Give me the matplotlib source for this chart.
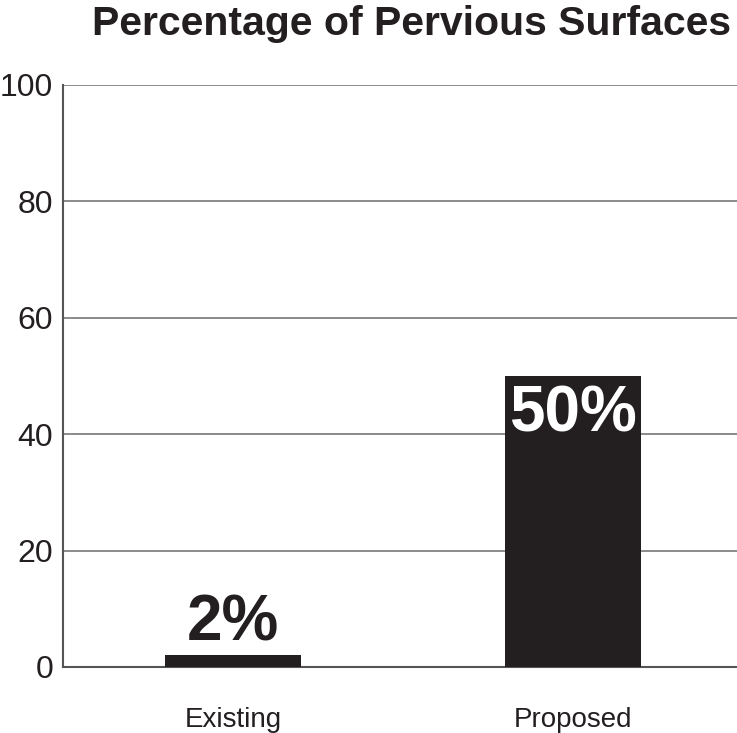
import matplotlib.pyplot as plt

plt.rcParams['font.family'] = ['Liberation Sans', 'DejaVu Sans']

categories = ['Existing', 'Proposed']
values = [2, 50]
labels = ['2%', '50%']
yticks = [0, 20, 40, 60, 80, 100]

fig = plt.figure(figsize=(7.37, 7.33), dpi=100)
ax = fig.add_axes([63 / 737, 1 - 667 / 733, 1 - 63 / 737, (667 - 85) / 733])

x = range(len(categories))
bar_color = '#231f20'
ax.bar(x, values, width=0.4, color=bar_color, zorder=3)

ax.set_xlim(-0.5, 1.482)
ax.set_ylim(0, 100)
ax.set_yticks(yticks)
ax.set_yticklabels([str(t) for t in yticks], fontsize=23, color='#231f20')
ax.set_xticks(list(x))
ax.set_xticklabels(categories, fontsize=20, color='#231f20')
ax.tick_params(length=0)
ax.tick_params(axis='y', pad=7)
ax.tick_params(axis='x', pad=29)
ax.yaxis.grid(True, color='#777777', linewidth=1.2, zorder=1)
ax.set_axisbelow(True)

for side in ['top', 'right']:
    ax.spines[side].set_visible(False)
for side in ['left', 'bottom']:
    ax.spines[side].set_color('#555555')
    ax.spines[side].set_linewidth(1.5)

# value labels: small bar gets label above, tall bar label inside
ax.annotate(labels[0], (0, values[0]), xytext=(0, 1.5), textcoords='offset points',
            ha='center', va='bottom', fontsize=46, fontweight='bold', color='#231f20')
ax.annotate(labels[1], (1, values[1]), xytext=(0, -6), textcoords='offset points',
            ha='center', va='top', fontsize=46, fontweight='bold', color='white')

fig.text(411 / 737, 1 - 35 / 733, 'Percentage of Pervious Surfaces', ha='center',
         va='baseline', fontsize=29.5, fontweight='bold', color='#231f20')

fig.savefig('out.png', dpi=100)
